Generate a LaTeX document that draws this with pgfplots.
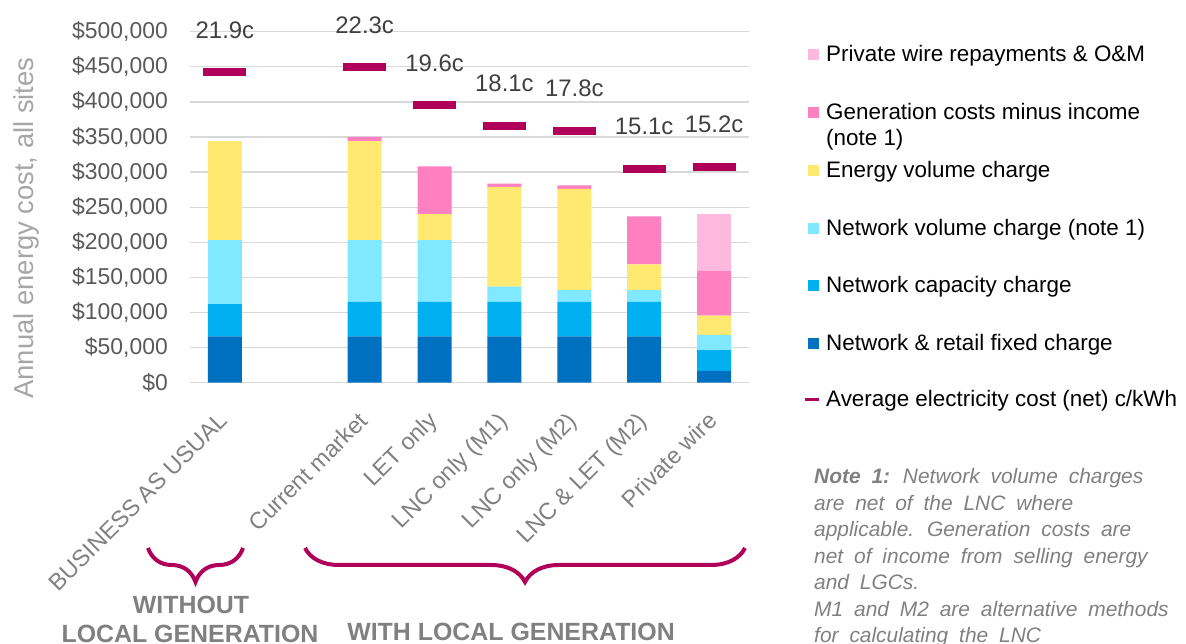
\documentclass[border=0pt]{standalone}
\usepackage{pgfplots}
\pgfplotsset{compat=1.18}
\usepackage{fontspec}
\setmainfont{Liberation Sans}
\usetikzlibrary{decorations.pathreplacing}
\definecolor{cdark}{RGB}{0,112,192}
\definecolor{cmed}{RGB}{0,176,240}
\definecolor{clight}{RGB}{128,232,255}
\definecolor{cyel}{RGB}{255,233,112}
\definecolor{cpink}{RGB}{255,128,192}
\definecolor{clpink}{RGB}{255,184,222}
\definecolor{crim}{RGB}{176,0,90}
\definecolor{gridgrey}{RGB}{217,217,217}
\definecolor{tickgrey}{RGB}{89,89,89}
\definecolor{labgrey}{RGB}{166,166,166}
\definecolor{xgrey}{RGB}{128,128,128}
\definecolor{valgrey}{RGB}{64,64,64}
\newcommand\wsp{\spaceskip=0.52em\relax}
\begin{document}
\begin{tikzpicture}[x=1bp,y=1bp]
\path[use as bounding box] (0,0) rectangle (1186,644);
\begin{axis}[
  at={(190bp,261.3bp)}, anchor=south west,
  scale only axis, width=559bp, height=351bp,
  xmin=-0.5, xmax=7.5, ymin=0, ymax=500000,
  ybar stacked, bar width=34bp,
  clip=false,
  axis line style={draw=none},
  tick style={draw=none},
  ymajorgrids, grid style={line width=1.3bp, color=gridgrey},
  xtick={0,2,3,4,5,6,7},
  xticklabels={BUSINESS AS USUAL, Current market, LET only, LNC only (M1), LNC only (M2), LNC \& LET (M2), Private wire},
  xticklabel style={rotate=45, anchor=north east, inner sep=0pt, xshift=-25bp, yshift=-14bp, font=\fontsize{23.5}{26}\selectfont, text=xgrey},
  ytick={0,50000,...,500000},
  scaled y ticks=false,
  /pgf/number format/fixed,
  /pgf/number format/1000 sep={,},
  /pgf/number format/assume math mode=true,
  yticklabel={\$\pgfmathprintnumber{\tick}},
  yticklabel style={anchor=east, inner sep=0pt, xshift=-22bp, font=\fontsize{23}{26}\selectfont, text=tickgrey},
]
\addplot[fill=cdark, draw=none] coordinates {(0,66000) (2,66000) (3,66000) (4,66000) (5,66000) (6,66000) (7,17000)};
\addplot[fill=cmed, draw=none] coordinates {(0,46000) (2,49000) (3,49000) (4,49000) (5,49000) (6,49000) (7,29500)};
\addplot[fill=clight, draw=none] coordinates {(0,91000) (2,88000) (3,88000) (4,22000) (5,17000) (6,17000) (7,21500)};
\addplot[fill=cyel, draw=none] coordinates {(0,141000) (2,141000) (3,37000) (4,142000) (5,144000) (6,36600) (7,27500)};
\addplot[fill=cpink, draw=none] coordinates {(0,0) (2,6000) (3,68000) (4,4500) (5,5000) (6,68400) (7,63500)};
\addplot[fill=clpink, draw=none] coordinates {(0,0) (2,0) (3,0) (4,0) (5,0) (6,0) (7,81000)};
\end{axis}
\begin{axis}[
  at={(190bp,261.3bp)}, anchor=south west,
  scale only axis, width=559bp, height=351bp,
  xmin=-0.5, xmax=7.5, ymin=0, ymax=500000,
  hide axis, clip=false,
]
\addplot[only marks, mark=-, mark size=21.5bp, mark options={line width=8bp, draw=crim},
  point meta=explicit symbolic, nodes near coords,
  nodes near coords style={anchor=center, yshift=42bp, font=\fontsize{24}{26}\selectfont, text=valgrey}]
  coordinates {(0,442000)[21.9c] (2,449000)[22.3c] (3,395600)[19.6c] (4,366000)[18.1c] (5,359000)[17.8c] (6,305000)[15.1c] (7,307700)[15.2c]};
\end{axis}
% y label
\node[rotate=90, font=\fontsize{27.5}{30}\selectfont, text=labgrey] at (26,416) {Annual energy cost, all sites};
% braces
\draw[crim, line width=4bp, decorate, decoration={brace, mirror, amplitude=34bp}] (148,96) -- (243,96);
\draw[crim, line width=4bp, decorate, decoration={brace, mirror, amplitude=34bp}] (305,96) -- (745,96);
% group labels
\node[anchor=base, font=\bfseries\fontsize{25}{28}\selectfont, text=xgrey] at (191,30) {WITHOUT};
\node[anchor=base, font=\bfseries\fontsize{25}{28}\selectfont, text=xgrey] at (190,1) {LOCAL GENERATION};
\node[anchor=base, font=\bfseries\fontsize{25}{28}\selectfont, text=xgrey] at (511,3) {WITH LOCAL GENERATION};
% legend
\fill[clpink] (808,583.5) rectangle ++(11,11);
\fill[cpink] (808,525.5) rectangle ++(11,11);
\fill[cyel] (808,467.5) rectangle ++(11,11);
\fill[clight] (808,409.5) rectangle ++(11,11);
\fill[cmed] (808,352.5) rectangle ++(11,11);
\fill[cdark] (808,294.5) rectangle ++(11,11);
\draw[crim, line width=3bp] (805,244) -- (819,244);
\begin{scope}[every node/.style={anchor=base west, inner sep=0pt, font=\fontsize{22.5}{26}\selectfont, text=black}]
\node at (826,582) {Private wire repayments \& O\&M};
\node at (826,524) {Generation costs minus income};
\node at (826,498) {(note 1)};
\node at (826,466) {Energy volume charge};
\node at (826,408) {Network volume charge (note 1)};
\node at (826,351) {Network capacity charge};
\node at (826,293) {Network \& retail fixed charge};
\node at (826,237) {Average electricity cost (net) c/kWh};
\end{scope}
% note
\begin{scope}[every node/.style={anchor=base west, inner sep=0pt, font=\itshape\fontsize{21}{26.5}\selectfont, text=xgrey}]
\node at (814,160) {\wsp\textbf{Note 1:} Network volume charges};
\node at (814,133.5) {\wsp are net of the LNC where};
\node at (814,107) {\wsp applicable. Generation costs are};
\node at (814,80.5) {\wsp net of income from selling energy};
\node at (814,54) {\wsp and LGCs.};
\node at (814,27.5) {\wsp M1 and M2 are alternative methods};
\node at (814,1) {\wsp for calculating the LNC};
\end{scope}
\end{tikzpicture}
\end{document}
